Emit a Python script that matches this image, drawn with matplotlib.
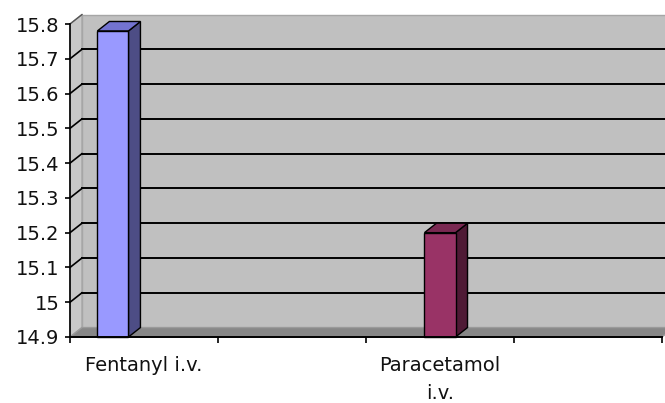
import matplotlib
matplotlib.use('Agg')
import matplotlib.pyplot as plt
from matplotlib.patches import Polygon
import numpy as np

# data
categories = ['Fentanyl i.v.', '', 'Paracetamol\ni.v.', '']
values = [15.78, np.nan, 15.20, np.nan]
bar_colors = [('#9999ff', '#7373d0', '#4d4d85'),
              (None, None, None),
              ('#993366', '#7a2952', '#4f1a35'),
              (None, None, None)]
y_ticks = [14.9, 15.0, 15.1, 15.2, 15.3, 15.4, 15.5, 15.6, 15.7, 15.8]

# layout of the pseudo 3d look
bar_shift = [-0.21, 0, 0.0, 0]
bar_w = 0.21
dx, dy = 0.081, 0.0272
ymin, ymax = 14.9, 15.8
n = len(categories)

fig = plt.figure(figsize=(6.65, 4.03), dpi=100)
ax = fig.add_axes([70/665, 66/403, 592/665, 313/403])
ax.set_xlim(0, n)
ax.set_ylim(ymin, ymax)
ax.set_facecolor('none')

# walls and floor
ax.add_patch(Polygon([(dx, ymin+dy), (n+dx, ymin+dy), (n+dx, ymax+dy), (dx, ymax+dy)],
                     closed=True, fc='#c0c0c0', ec='#a6a6a6', lw=1, clip_on=False, zorder=0))
ax.add_patch(Polygon([(0, ymin), (dx, ymin+dy), (dx, ymax+dy), (0, ymax)],
                     closed=True, fc='#c8c8c8', ec='#a6a6a6', lw=1, clip_on=False, zorder=0))
ax.add_patch(Polygon([(0, ymin), (n, ymin), (n+dx, ymin+dy), (dx, ymin+dy)],
                     closed=True, fc='#878787', ec='#9a9a9a', lw=1, clip_on=False, zorder=1))

# gridlines on back wall + side wall
for v in y_ticks[1:-1]:
    ax.plot([dx, n+dx], [v+dy, v+dy], c='black', lw=1.4, clip_on=False, zorder=1)
    ax.plot([0, dx], [v, v+dy], c='black', lw=1.2, clip_on=False, zorder=1)
ax.plot([0, dx], [ymax, ymax+dy], c='#555555', lw=1, clip_on=False, zorder=1)

# bars
for i, v in enumerate(values):
    if np.isnan(v):
        continue
    front, top, side = bar_colors[i]
    x0 = i + 0.5 + bar_shift[i] - bar_w/2
    x1 = x0 + bar_w
    kw = dict(closed=True, ec='black', lw=1, clip_on=False, zorder=3)
    ax.add_patch(Polygon([(x1, ymin), (x1+dx, ymin+dy), (x1+dx, v+dy), (x1, v)], fc=side, **kw))
    ax.add_patch(Polygon([(x0, v), (x1, v), (x1+dx, v+dy), (x0+dx, v+dy)], fc=top, **kw))
    ax.add_patch(Polygon([(x0, ymin), (x1, ymin), (x1, v), (x0, v)], fc=front, **kw))

# axes
for s in ['top', 'right']:
    ax.spines[s].set_visible(False)
ax.spines['left'].set_linewidth(1.2)
ax.spines['bottom'].set_linewidth(1.4)
ax.spines['left'].set_zorder(4)
ax.spines['bottom'].set_zorder(4)

ax.set_yticks(y_ticks)
ax.set_yticklabels([f'{v:g}' for v in y_ticks])
ax.tick_params(axis='y', length=3.5, width=1.2, pad=4, labelsize=14, labelcolor='#111111')

ax.set_xticks(np.arange(n) + 0.5)
ax.set_xticklabels(categories, linespacing=1.55)
ax.set_xticks(np.arange(n + 1), minor=True)
ax.tick_params(axis='x', which='major', length=0, pad=14, labelsize=14, labelcolor='#111111')
ax.tick_params(axis='x', which='minor', length=4, width=1.2)

fig.savefig('out.png', dpi=100)
